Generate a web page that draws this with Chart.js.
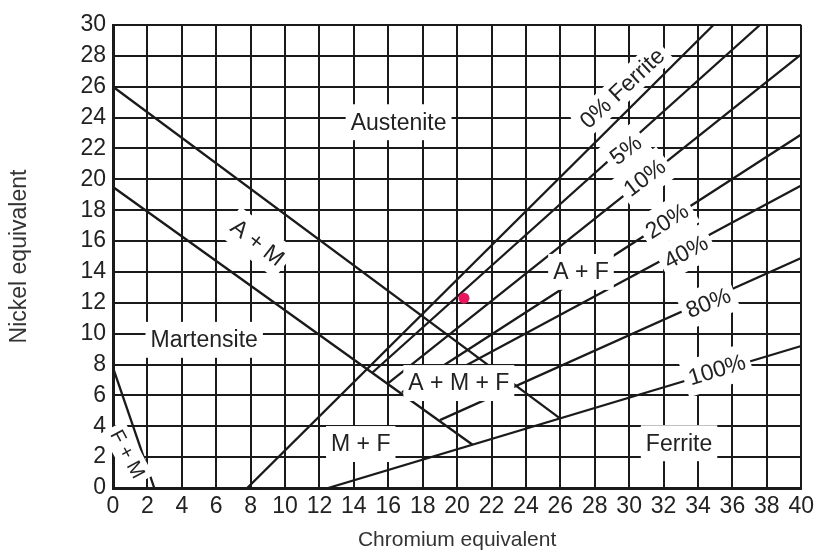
<!DOCTYPE html>
<html>
<head>
<meta charset="utf-8">
<title>Schaeffler diagram</title>
<script src="https://cdn.jsdelivr.net/npm/chart.js@4"></script>
<style>
  html, body { margin: 0; padding: 0; background: #fff; }
  #wrap { width: 819px; height: 556px; }
</style>
</head>
<body>
<div id="wrap"><canvas id="chart" width="819" height="556"></canvas></div>
<script>
// Axis ticks (Cr and Ni equivalents)
const crTicks = [0,2,4,6,8,10,12,14,16,18,20,22,24,26,28,30,32,34,36,38,40];
const niTicks = [0,2,4,6,8,10,12,14,16,18,20,22,24,26,28,30];

// Iso-ferrite lines: start and end points (Cr eq, Ni eq)
const ferriteNames = ['0%','5%','10%','20%','40%','80%','100%'];
const ferriteStartCr = [7.8, 15.1, 16.0, 16.8, 17.1, 19.0, 12.5];
const ferriteStartNi = [0.0, 7.5, 6.8, 6.2, 5.9, 4.4, 0.0];
const ferriteEndCr = [34.9, 37.6, 40, 40, 40, 40, 40];
const ferriteEndNi = [30, 30, 28.1, 22.9, 19.6, 14.9, 9.2];

// Phase boundaries: upper A+M line, lower martensite line, F+M line
const boundaryNames = ['A+M upper', 'Martensite lower', 'F+M'];
const boundaryStartCr = [0, 0, 0];
const boundaryStartNi = [26, 19.5, 7.8];
const boundaryEndCr = [26, 20.9, 2.4];
const boundaryEndNi = [4.5, 2.8, 0];

// Weld metal composition point
const sampleCr = [20.4];
const sampleNi = [12.3];

// Region and line labels (data coordinates, rotation in degrees)
const regionLabels = [
  { text: 'Austenite',  cr: 16.6, ni: 23.7, angle: 0 },
  { text: '0% Ferrite', cr: 29.6, ni: 25.9, angle: -43, padY: 2 },
  { text: '5%',   cr: 29.8, ni: 21.9, angle: -38 },
  { text: '10%',  cr: 30.9, ni: 20.1, angle: -37 },
  { text: '20%',  cr: 32.2, ni: 17.3, angle: -32 },
  { text: '40%',  cr: 33.3, ni: 15.3, angle: -28 },
  { text: '80%',  cr: 34.6, ni: 12.0, angle: -22 },
  { text: '100%', cr: 35.1, ni: 7.65, angle: -17 },
  { text: 'A + F', cr: 27.2, ni: 14.0, angle: 0 },
  { text: 'A + M', cr: 8.4, ni: 15.9, angle: 38 },
  { text: 'Martensite', cr: 5.3, ni: 9.6, angle: 0 },
  { text: 'A + M + F', cr: 20.1, ni: 6.8, angle: 0 },
  { text: 'M + F', cr: 14.4, ni: 2.85, angle: 0 },
  { text: 'Ferrite', cr: 32.9, ni: 2.9, angle: 0 },
  { text: 'F + M', cr: 0.85, ni: 2.2, angle: 62, size: 20, padY: 2 }
];

const FONT = "'Liberation Sans', Arial, Helvetica, sans-serif";
const INK = '#1a1a1a';

function segment(name, x0, y0, x1, y1) {
  return {
    label: name,
    data: [{ x: x0, y: y0 }, { x: x1, y: y1 }],
    showLine: true,
    borderColor: INK,
    borderWidth: 2.3,
    pointRadius: 0,
    fill: false
  };
}

const datasets = [];
ferriteNames.forEach((n, i) => {
  datasets.push(segment(n, ferriteStartCr[i], ferriteStartNi[i], ferriteEndCr[i], ferriteEndNi[i]));
});
boundaryNames.forEach((n, i) => {
  datasets.push(segment(n, boundaryStartCr[i], boundaryStartNi[i], boundaryEndCr[i], boundaryEndNi[i]));
});

// Labels with a white backing box that masks the grid underneath
const labelPlugin = {
  id: 'regionLabels',
  afterDatasetsDraw(chart) {
    const { ctx, scales: { x, y } } = chart;
    ctx.save();
    regionLabels.forEach(l => {
      const px = x.getPixelForValue(l.cr);
      const py = y.getPixelForValue(l.ni);
      const size = l.size || 23;
      ctx.save();
      ctx.translate(px, py);
      ctx.rotate((l.angle || 0) * Math.PI / 180);
      ctx.font = size + 'px ' + FONT;
      const w = ctx.measureText(l.text).width;
      const padX = 5;
      const padY = l.padY !== undefined ? l.padY : 6;
      const h = size * 0.78 + padY * 2 + 6;
      ctx.fillStyle = '#ffffff';
      ctx.fillRect(-w / 2 - padX, -h / 2, w + padX * 2, h);
      ctx.fillStyle = '#222';
      ctx.textAlign = 'center';
      ctx.textBaseline = 'middle';
      ctx.fillText(l.text, 0, 1);
      ctx.restore();
    });
    ctx.restore();
  }
};

// Composition point drawn on top of everything
const pointPlugin = {
  id: 'samplePoint',
  afterDraw(chart) {
    const { ctx, scales: { x, y } } = chart;
    ctx.save();
    sampleCr.forEach((c, i) => {
      ctx.beginPath();
      ctx.arc(x.getPixelForValue(c), y.getPixelForValue(sampleNi[i]), 5.5, 0, Math.PI * 2);
      ctx.fillStyle = '#e8175d';
      ctx.fill();
    });
    ctx.restore();
  }
};

new Chart(document.getElementById('chart'), {
  type: 'scatter',
  data: { datasets },
  options: {
    responsive: false,
    animation: false,
    layout: { padding: { left: 0, right: 14, top: 25, bottom: 0 } },
    plugins: { legend: { display: false }, tooltip: { enabled: false } },
    scales: {
      x: {
        type: 'linear',
        min: 0, max: 40,
        afterBuildTicks: s => { s.ticks = crTicks.map(v => ({ value: v })); },
        afterFit: s => { s.height = 68; },
        grid: { color: INK, lineWidth: 2, drawTicks: false },
        border: { display: true, color: INK, width: 3 },
        ticks: { padding: 5, color: '#222', font: { family: FONT, size: 23 }, maxRotation: 0, autoSkip: false },
        title: { display: true, text: 'Chromium equivalent', color: '#333', font: { family: FONT, size: 21 }, padding: { top: 0, bottom: 3 } }
      },
      y: {
        type: 'linear',
        min: 0, max: 30,
        afterBuildTicks: s => { s.ticks = niTicks.map(v => ({ value: v })); },
        afterFit: s => { s.width = 113; },
        grid: { color: INK, lineWidth: 2, drawTicks: false },
        border: { display: true, color: INK, width: 3 },
        ticks: { padding: 7, color: '#222', font: { family: FONT, size: 23 }, autoSkip: false },
        title: { display: true, text: 'Nickel equivalent', color: '#333', font: { family: FONT, size: 23 }, padding: { top: 6, bottom: 0 } }
      }
    }
  },
  plugins: [labelPlugin, pointPlugin]
});
</script>
</body>
</html>
